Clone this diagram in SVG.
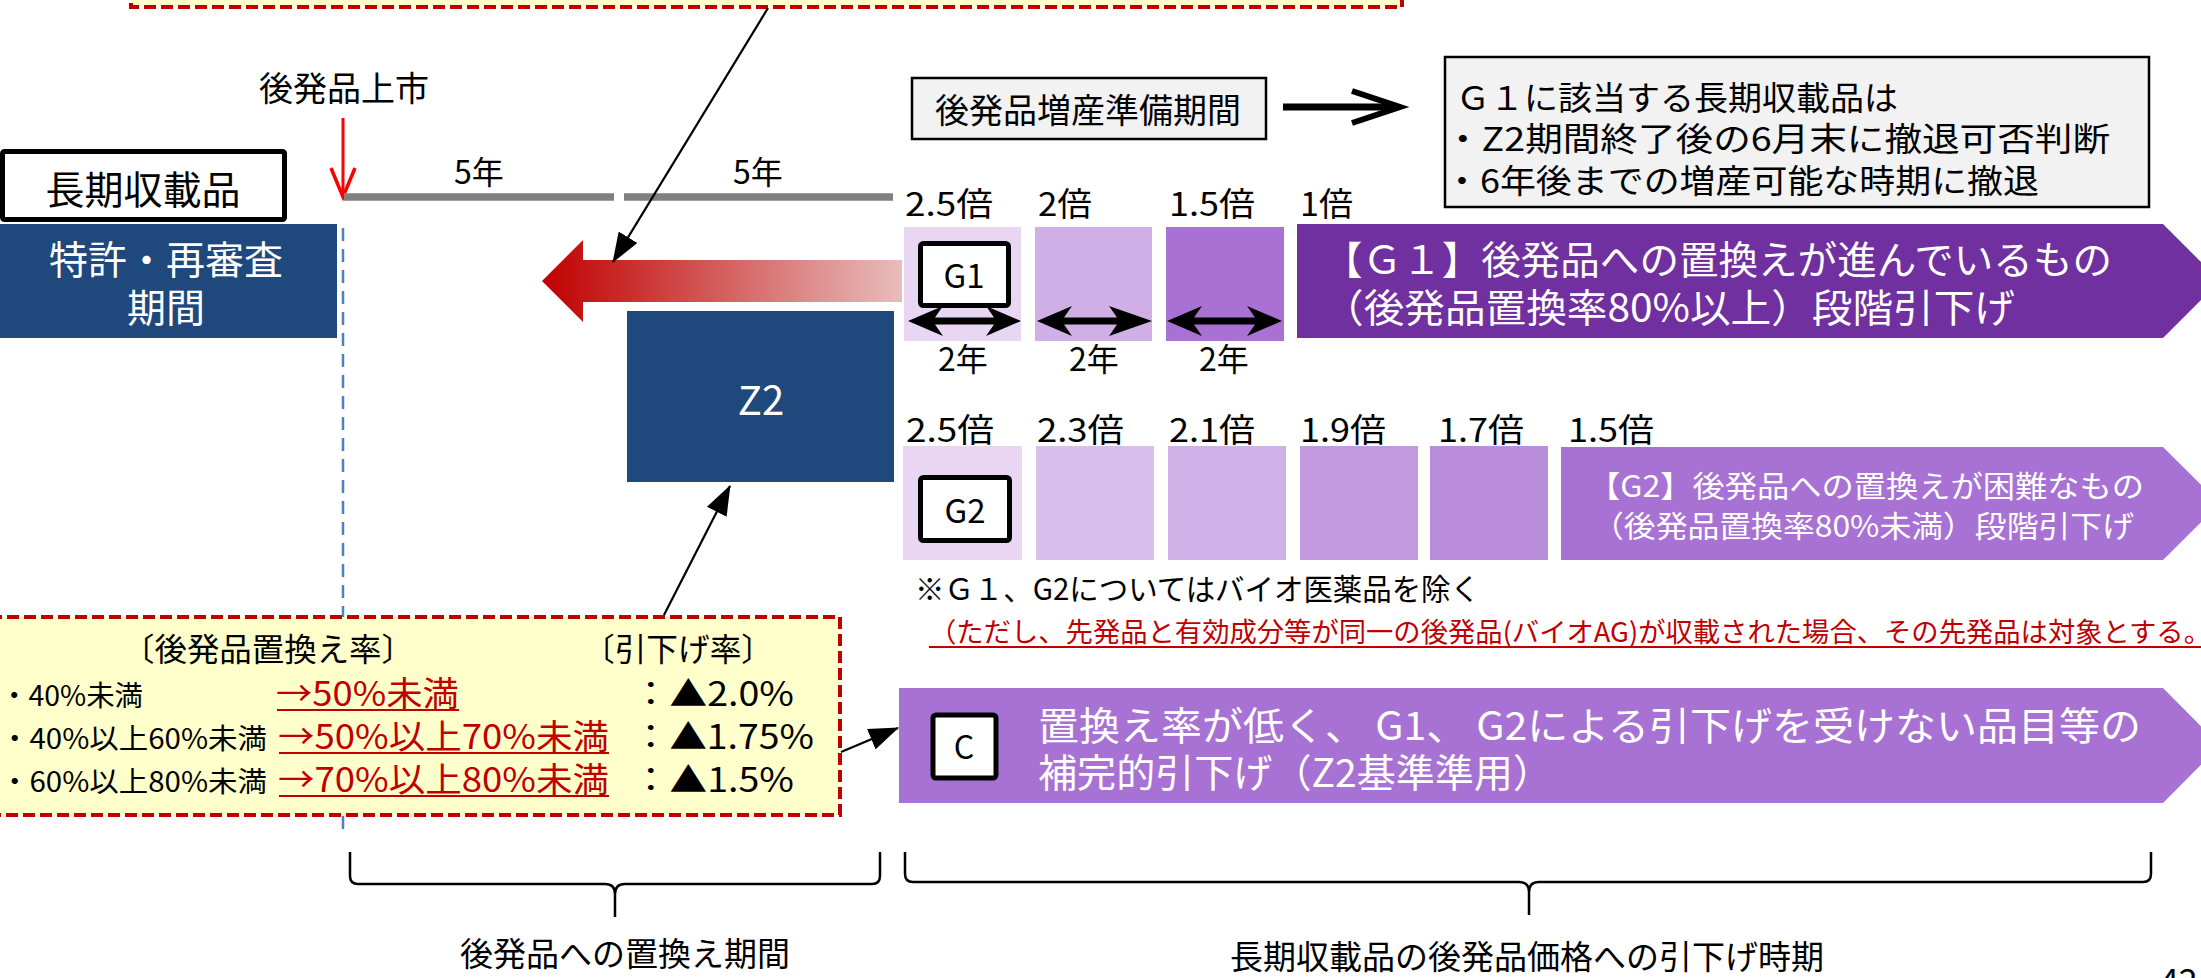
<svg xmlns="http://www.w3.org/2000/svg" width="2201" height="978" viewBox="0 0 2201 978">
<defs>
<style>
text { font-family: "Noto Sans CJK JP", "Noto Sans", sans-serif; fill:#000; }
.wh { fill:#fff; }
.rd { fill:#C00000; }
.lbl { stroke:#000; stroke-width:5; fill:#fff; }
.conn { stroke:#000; stroke-width:2.2; fill:none; marker-end:url(#ah); }
.brace { stroke:#000; stroke-width:2.5; fill:none; }
.gbox { fill:#F2F2F2; stroke:#000; stroke-width:2.5; }
.ydash { fill:#FFFFCC; stroke:#C00000; stroke-width:4; stroke-dasharray:12 5; }
.uline { stroke:#C00000; stroke-width:2.2; }
.dbl { fill:#000; }
</style>
<linearGradient id="redgrad" x1="542" y1="0" x2="902" y2="0" gradientUnits="userSpaceOnUse">
<stop offset="0" stop-color="#C00000"/>
<stop offset="1" stop-color="#E8BDBC"/>
</linearGradient>
<marker id="ah" markerUnits="userSpaceOnUse" markerWidth="30" markerHeight="22" refX="29" refY="11" orient="auto">
<path d="M0,0 L30,11 L0,22 z" fill="#000"/>
</marker>
</defs>

<rect width="2201" height="978" fill="#fff"/>

<!-- top yellow box (cut off) -->
<g id="top-note">
<rect class="ydash" x="131" y="-60" width="1271" height="67"/>
</g>

<!-- timeline -->
<g id="timeline">
<text x="344" y="101" font-size="34" text-anchor="middle">後発品上市</text>
<line x1="343" y1="118" x2="343" y2="196" stroke="#FF0000" stroke-width="3"/>
<polyline points="331,168 343,197 355,168" fill="none" stroke="#FF0000" stroke-width="3.5" stroke-linejoin="miter"/>
<line x1="344" y1="197" x2="614" y2="197" stroke="#808080" stroke-width="7.5"/>
<line x1="624" y1="197" x2="893" y2="197" stroke="#808080" stroke-width="7.5"/>
<text x="479" y="184" font-size="32" text-anchor="middle">5年</text>
<text x="758" y="184" font-size="32" text-anchor="middle">5年</text>
<line x1="343" y1="228" x2="343" y2="830" stroke="#4F81BD" stroke-width="2.5" stroke-dasharray="13 8"/>
</g>

<g id="long-listed">
<rect class="lbl" x="2.5" y="151.5" width="282" height="68" rx="2"/>
<text x="143" y="204" font-size="39" text-anchor="middle">長期収載品</text>
</g>

<g id="patent">
<rect x="0" y="224" width="337" height="114" fill="#1F497D"/>
<text class="wh" x="166" y="274" font-size="39" text-anchor="middle">特許・再審査</text>
<text class="wh" x="166" y="322" font-size="39" text-anchor="middle">期間</text>
</g>

<g id="red-arrow">
<path d="M542,281 L583,240 L583,260 L902,260 L902,302 L583,302 L583,322 Z" fill="url(#redgrad)"/>
</g>

<g id="z2">
<rect x="627" y="311" width="267" height="171" fill="#1F497D"/>
<text class="wh" x="761" y="415" font-size="40" text-anchor="middle">Z2</text>
</g>

<g id="prep">
<rect class="gbox" x="912" y="78" width="354" height="61"/>
<text x="1088" y="123" font-size="34" text-anchor="middle">後発品増産準備期間</text>
<line x1="1283" y1="107" x2="1396" y2="107" stroke="#000" stroke-width="7"/>
<polyline points="1352,91 1400,107 1352,123" fill="none" stroke="#000" stroke-width="6"/>
</g>

<g id="info">
<rect class="gbox" x="1445" y="57" width="704" height="150"/>
<text x="1456" y="110" font-size="33" textLength="442" lengthAdjust="spacingAndGlyphs">Ｇ１に該当する長期収載品は</text>
<text x="1444" y="151" font-size="33" textLength="666" lengthAdjust="spacingAndGlyphs">・Z2期間終了後の6月末に撤退可否判断</text>
<text x="1444" y="193" font-size="33" textLength="595" lengthAdjust="spacingAndGlyphs">・6年後までの増産可能な時期に撤退</text>
</g>

<!-- G1 row -->
<g id="g1">
<text x="905" y="216" font-size="33" textLength="88" lengthAdjust="spacingAndGlyphs">2.5倍</text>
<text x="1038" y="216" font-size="33" textLength="54" lengthAdjust="spacingAndGlyphs">2倍</text>
<text x="1169" y="216" font-size="33" textLength="86" lengthAdjust="spacingAndGlyphs">1.5倍</text>
<text x="1300" y="216" font-size="33" textLength="53" lengthAdjust="spacingAndGlyphs">1倍</text>
<rect x="904" y="227" width="117" height="114" fill="#E8D6F2"/>
<rect x="1035" y="227" width="117" height="114" fill="#D0AFE7"/>
<rect x="1166" y="227" width="118" height="114" fill="#A971D4"/>
<path d="M1297,224 H2163 L2220,281 L2163,338 H1297 Z" fill="#7030A0"/>
<text class="wh" x="1323" y="274" font-size="39" textLength="789" lengthAdjust="spacingAndGlyphs">【Ｇ１】後発品への置換えが進んでいるもの</text>
<text class="wh" x="1323" y="322" font-size="39" textLength="692" lengthAdjust="spacingAndGlyphs">（後発品置換率80%以上）段階引下げ</text>
<rect class="lbl" x="920.5" y="243.5" width="88" height="62" rx="3"/>
<text x="964" y="288" font-size="33" text-anchor="middle">G1</text>
<path class="dbl" d="M908,321 L943,306 L935,317.5 L994,317.5 L986,306 L1021,321 L986,336 L994,324.5 L935,324.5 L943,336 Z"/>
<path class="dbl" d="M1037,321 L1072,306 L1064,317.5 L1117,317.5 L1109,306 L1152,321 L1109,336 L1117,324.5 L1064,324.5 L1072,336 Z"/>
<path class="dbl" d="M1167,321 L1202,306 L1194,317.5 L1255,317.5 L1247,306 L1282,321 L1247,336 L1255,324.5 L1194,324.5 L1202,336 Z"/>
<text x="963" y="371" font-size="32" text-anchor="middle">2年</text>
<text x="1094" y="371" font-size="32" text-anchor="middle">2年</text>
<text x="1224" y="371" font-size="32" text-anchor="middle">2年</text>
</g>

<!-- G2 row -->
<g id="g2">
<text x="906" y="442" font-size="33" textLength="88" lengthAdjust="spacingAndGlyphs">2.5倍</text>
<text x="1037" y="442" font-size="33" textLength="87" lengthAdjust="spacingAndGlyphs">2.3倍</text>
<text x="1169" y="442" font-size="33" textLength="86" lengthAdjust="spacingAndGlyphs">2.1倍</text>
<text x="1300" y="442" font-size="33" textLength="86" lengthAdjust="spacingAndGlyphs">1.9倍</text>
<text x="1438" y="442" font-size="33" textLength="86" lengthAdjust="spacingAndGlyphs">1.7倍</text>
<text x="1568" y="442" font-size="33" textLength="86" lengthAdjust="spacingAndGlyphs">1.5倍</text>
<rect x="903" y="446" width="119" height="114" fill="#E8D6F2"/>
<rect x="1036" y="446" width="118" height="114" fill="#D9C0EC"/>
<rect x="1168" y="446" width="118" height="114" fill="#CFB0E7"/>
<rect x="1300" y="446" width="118" height="114" fill="#C299DF"/>
<rect x="1430" y="446" width="118" height="114" fill="#BA8DDA"/>
<path d="M1561,447 H2163 L2220,503.5 L2163,560 H1561 Z" fill="#A872D4"/>
<text class="wh" x="1588" y="497" font-size="30" textLength="556" lengthAdjust="spacingAndGlyphs">【G2】後発品への置換えが困難なもの</text>
<text class="wh" x="1592" y="537" font-size="30" textLength="542" lengthAdjust="spacingAndGlyphs">（後発品置換率80%未満）段階引下げ</text>
<rect class="lbl" x="920.5" y="477.5" width="89" height="63" rx="3"/>
<text x="965" y="523" font-size="33" text-anchor="middle">G2</text>
</g>

<g id="notes">
<text x="915" y="600" font-size="30" textLength="565" lengthAdjust="spacingAndGlyphs">※Ｇ１、G2についてはバイオ医薬品を除く</text>
<text class="rd" x="929" y="642" font-size="27" textLength="1282" lengthAdjust="spacingAndGlyphs">（ただし、先発品と有効成分等が同一の後発品(バイオAG)が収載された場合、その先発品は対象とする。</text>
<line class="uline" x1="929" y1="647" x2="2201" y2="647"/>
</g>

<!-- C row -->
<g id="c">
<path d="M899,688 H2163 L2220,745.5 L2163,803 H899 Z" fill="#A872D4"/>
<rect class="lbl" x="933" y="715" width="63" height="63" rx="3"/>
<text x="964" y="759" font-size="32" text-anchor="middle">C</text>
<text class="wh" x="1038" y="740" font-size="39" textLength="1103" lengthAdjust="spacingAndGlyphs">置換え率が低く、 G1、 G2による引下げを受けない品目等の</text>
<text class="wh" x="1038" y="787" font-size="39" textLength="514" lengthAdjust="spacingAndGlyphs">補完的引下げ（Z2基準準用）</text>
</g>

<!-- rate box -->
<g id="rate-box">
<rect class="ydash" x="-10" y="617" width="850" height="198"/>
<text x="122" y="661" font-size="32" textLength="292" lengthAdjust="spacingAndGlyphs">〔後発品置換え率〕</text>
<text x="583" y="661" font-size="32" textLength="190" lengthAdjust="spacingAndGlyphs">〔引下げ率〕</text>
<text x="0" y="706" font-size="28" textLength="143" lengthAdjust="spacingAndGlyphs">・40%未満</text>
<text x="0" y="749" font-size="28" textLength="267" lengthAdjust="spacingAndGlyphs">・40%以上60%未満</text>
<text x="0" y="792" font-size="28" textLength="267" lengthAdjust="spacingAndGlyphs">・60%以上80%未満</text>
<text class="rd" x="276" y="706" font-size="34" textLength="183" lengthAdjust="spacingAndGlyphs">→50%未満</text>
<text class="rd" x="278" y="749" font-size="34" textLength="331" lengthAdjust="spacingAndGlyphs">→50%以上70%未満</text>
<text class="rd" x="278" y="792" font-size="34" textLength="331" lengthAdjust="spacingAndGlyphs">→70%以上80%未満</text>
<line class="uline" x1="277" y1="710" x2="459" y2="710"/>
<line class="uline" x1="279" y1="753" x2="609" y2="753"/>
<line class="uline" x1="279" y1="796" x2="609" y2="796"/>
<text x="632" y="706" font-size="34" textLength="162" lengthAdjust="spacingAndGlyphs">：▲2.0%</text>
<text x="632" y="749" font-size="34" textLength="182" lengthAdjust="spacingAndGlyphs">：▲1.75%</text>
<text x="632" y="792" font-size="34" textLength="162" lengthAdjust="spacingAndGlyphs">：▲1.5%</text>
</g>

<!-- connectors -->
<g id="connectors">
<line class="conn" x1="768" y1="8" x2="613" y2="262"/>
<line class="conn" x1="664" y1="615" x2="730" y2="486"/>
<line class="conn" x1="841" y1="752" x2="898" y2="728"/>
</g>

<!-- braces -->
<g id="brace-1">
<path class="brace" d="M350,852 L350,876 Q350,884 358,884 L605,884 Q615,884 615,894 L615,917 M615,894 Q615,884 625,884 L872,884 Q880,884 880,876 L880,852"/>
<text x="625" y="966" font-size="33" text-anchor="middle">後発品への置換え期間</text>
</g>
<g id="brace-2">
<path class="brace" d="M905,852 L905,874 Q905,882 913,882 L1519,882 Q1529,882 1529,892 L1529,915 M1529,892 Q1529,882 1539,882 L2143,882 Q2151,882 2151,874 L2151,852"/>
<text x="1527" y="969" font-size="33" text-anchor="middle">長期収載品の後発品価格への引下げ時期</text>
</g>

<g id="page">
<text x="2160" y="993" font-size="34">42</text>
</g>
</svg>
